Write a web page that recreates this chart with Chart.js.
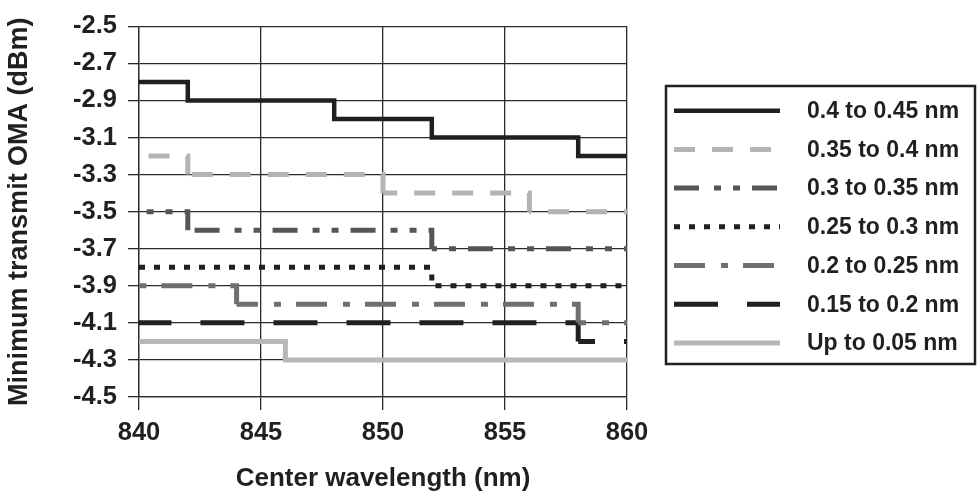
<!DOCTYPE html>
<html>
<head>
<meta charset="utf-8">
<script src="https://cdn.jsdelivr.net/npm/chart.js@4/dist/chart.umd.min.js"></script>
<style>
  html, body { margin: 0; padding: 0; background: #ffffff; }
  #wrap { width: 978px; height: 499px; position: relative; }
</style>
</head>
<body>
<div id="wrap"><canvas id="c" width="978" height="499"></canvas></div>
<script>
// ---- data ----
const seriesLabels = [
  "0.4 to 0.45 nm",
  "0.35 to 0.4 nm",
  "0.3 to 0.35 nm",
  "0.25 to 0.3 nm",
  "0.2 to 0.25 nm",
  "0.15 to 0.2 nm",
  "Up to 0.05 nm"
];
// wavelength (nm) where each level starts; last entry is the end of the line
const w_040_045 = [840, 842, 848, 852, 858, 860];
const v_040_045 = [-2.8, -2.9, -3.0, -3.1, -3.2, -3.2];
const w_035_040 = [840, 842, 850, 856, 860];
const v_035_040 = [-3.2, -3.3, -3.4, -3.5, -3.5];
const w_030_035 = [840, 842, 852, 860];
const v_030_035 = [-3.5, -3.6, -3.7, -3.7];
const w_025_030 = [840, 852, 860];
const v_025_030 = [-3.8, -3.9, -3.9];
const w_020_025 = [840, 844, 858, 860];
const v_020_025 = [-3.9, -4.0, -4.1, -4.1];
const w_015_020 = [840, 858, 860];
const v_015_020 = [-4.1, -4.2, -4.2];
const w_upto_005 = [840, 846, 860];
const v_upto_005 = [-4.2, -4.3, -4.3];

const xTickValues = [840, 845, 850, 855, 860];
const yTickValues = [-4.5, -4.3, -4.1, -3.9, -3.7, -3.5, -3.3, -3.1, -2.9, -2.7, -2.5];

const xTitle = "Center wavelength (nm)";
const yTitle = "Minimum transmit OMA (dBm)";

// ---- build ----
function pts(ws, vs) { return ws.map((w, i) => ({ x: w, y: vs[i] })); }

// alignStep: make the vertical riser of each step fall inside a dash
const styles = [
  { color: '#231f20', width: 4.5, dash: [],                     alignStep: false },
  { color: '#b3b3b5', width: 5,   dash: [21, 17],               alignStep: true },
  { color: '#555557', width: 5,   dash: [25, 15, 7, 12, 7, 12], alignStep: true },
  { color: '#231f20', width: 5,   dash: [6, 9],                 alignStep: false },
  { color: '#6f6f71', width: 5,   dash: [31, 16, 7, 15],        alignStep: true },
  { color: '#231f20', width: 5,   dash: [44, 29],               alignStep: true },
  { color: '#b7b7b9', width: 5,   dash: [],                     alignStep: false }
];
const allW = [w_040_045, w_035_040, w_030_035, w_025_030, w_020_025, w_015_020, w_upto_005];
const allV = [v_040_045, v_035_040, v_030_035, v_025_030, v_020_025, v_015_020, v_upto_005];

function stepOffset(st) {
  return function (ctx) {
    if (!st.alignStep || !st.dash.length) return 0;
    const period = st.dash.reduce((a, b) => a + b, 0);
    const D = st.dash[0];
    const h = Math.abs(ctx.p1.x - ctx.p0.x);
    const v = Math.abs(ctx.p1.y - ctx.p0.y);
    if (v < 0.5) return ((-(h % period)) % period + period) % period + 3;
    const a = Math.max(1, (D - v) / 2);
    const s = h - a;
    return ((-s % period) + period) % period;
  };
}

const datasets = seriesLabels.map((lab, i) => ({
  label: lab,
  data: pts(allW[i], allV[i]),
  borderColor: styles[i].color,
  backgroundColor: styles[i].color,
  borderWidth: styles[i].width,
  borderDash: styles[i].dash,
  borderDashOffset: 0,
  borderCapStyle: 'butt',
  borderJoinStyle: 'miter',
  stepped: 'before',
  pointRadius: 0,
  pointHoverRadius: 0,
  fill: false,
  segment: { borderDashOffset: stepOffset(styles[i]) }
}));

const FONT = "'Liberation Sans', Arial, sans-serif";
const INK = '#231f20';

const boxLegend = {
  id: 'boxLegend',
  afterDraw(chart) {
    const ctx = chart.ctx;
    const left = 666, top = 86, right = 975, bottom = 364;
    ctx.save();
    ctx.strokeStyle = INK;
    ctx.lineWidth = 2.5;
    ctx.setLineDash([]);
    ctx.strokeRect(left, top, right - left, bottom - top);
    const rowTop = 110.7, rowGap = 38.7;
    chart.data.datasets.forEach((ds, i) => {
      const y = rowTop + i * rowGap;
      ctx.beginPath();
      ctx.strokeStyle = ds.borderColor;
      ctx.lineWidth = ds.borderWidth;
      ctx.lineCap = 'butt';
      ctx.setLineDash(ds.borderDash || []);
      ctx.lineDashOffset = 0;
      ctx.moveTo(674, y);
      ctx.lineTo(780, y);
      ctx.stroke();
      ctx.setLineDash([]);
      ctx.fillStyle = INK;
      ctx.font = "bold 23px " + FONT;
      ctx.textAlign = 'left';
      ctx.textBaseline = 'middle';
      ctx.fillText(ds.label, 807, y + 1);
    });
    ctx.restore();
  }
};

new Chart(document.getElementById('c'), {
  type: 'line',
  data: { datasets },
  plugins: [boxLegend],
  options: {
    responsive: false,
    animation: false,
    events: [],
    layout: { padding: { top: 16, right: 351, left: 0, bottom: 0 } },
    plugins: { legend: { display: false }, tooltip: { enabled: false } },
    scales: {
      x: {
        type: 'linear',
        min: 840, max: 860,
        afterFit(s) { s.height = 102; },
        afterBuildTicks(s) { s.ticks = xTickValues.map(v => ({ value: v })); },
        grid: { color: '#2b2b2b', lineWidth: 1.3, tickLength: 13, drawTicks: true, tickColor: '#2b2b2b' },
        border: { color: '#2b2b2b', width: 1.3 },
        ticks: { color: INK, font: { family: FONT, size: 25.5, weight: 'bold' }, padding: 8, maxRotation: 0,
                 callback: v => String(v) },
        title: { display: true, text: xTitle, color: INK, font: { family: FONT, size: 26, weight: 'bold' },
                 padding: { top: 0, bottom: 5 } }
      },
      y: {
        type: 'linear',
        min: -4.5, max: -2.5,
        afterFit(s) { s.width = 139; },
        afterBuildTicks(s) { s.ticks = yTickValues.map(v => ({ value: v })); },
        grid: { color: '#2b2b2b', lineWidth: 1.3, tickLength: 11, drawTicks: true, tickColor: '#2b2b2b' },
        border: { color: '#2b2b2b', width: 1.3 },
        ticks: { color: INK, font: { family: FONT, size: 25.5, weight: 'bold' }, padding: 11,
                 callback: v => v.toFixed(1) },
        title: { display: true, text: yTitle, color: INK, font: { family: FONT, size: 27, weight: 'bold' },
                 padding: { top: 3, bottom: 0 } }
      }
    }
  }
});
</script>
</body>
</html>
